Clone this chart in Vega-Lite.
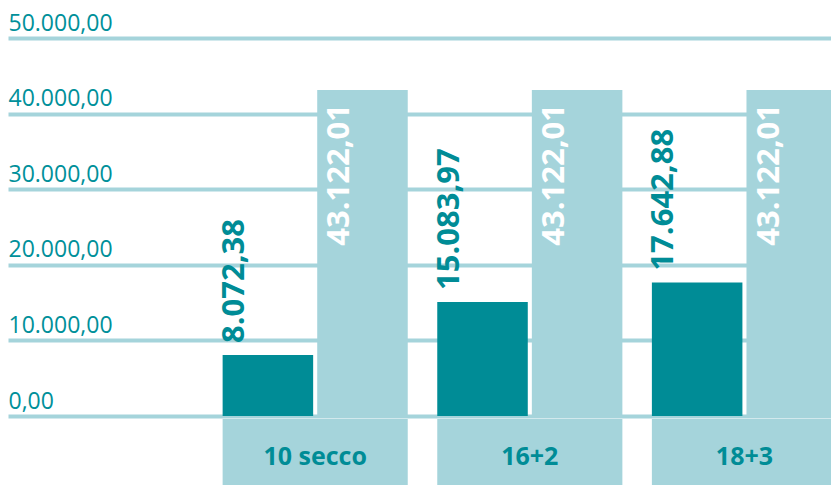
{
  "$schema": "https://vega.github.io/schema/vega-lite/v6.json",
  "padding": {"left": 8, "top": 12, "right": 0, "bottom": 0},
  "background": "white",
  "config": {
    "view": {"stroke": null},
    "font": "Open Sans",
    "locale": {"number": {"decimal": ",", "thousands": ".", "grouping": [3], "currency": ["€", ""]}}
  },
  "spacing": 3,
  "datasets": {
    "bars": [
      {"gruppo": "10 secco", "serie": "A", "valore": 8072.38},
      {"gruppo": "10 secco", "serie": "B", "valore": 43122.01},
      {"gruppo": "16+2", "serie": "A", "valore": 15083.97},
      {"gruppo": "16+2", "serie": "B", "valore": 43122.01},
      {"gruppo": "18+3", "serie": "A", "valore": 17642.88},
      {"gruppo": "18+3", "serie": "B", "valore": 43122.01}
    ]
  },
  "vconcat": [
    {
      "width": 823,
      "height": 378,
      "data": {"name": "bars"},
      "encoding": {
        "x": {"field": "gruppo", "type": "nominal", "sort": ["10 secco", "16+2", "18+3"],
          "scale": {"range": [0, 829], "paddingInner": 0.1375, "paddingOuter": 0.5, "align": 1},
          "axis": null},
        "xOffset": {"field": "serie", "type": "nominal", "scale": {"paddingInner": 0.043, "paddingOuter": 0}},
        "y": {"field": "valore", "type": "quantitative",
          "scale": {"domain": [0, 50000], "nice": false},
          "axis": {"title": null, "values": [0, 10000, 20000, 30000, 40000, 50000], "format": ",.2f",
            "domain": false, "ticks": false, "labelAlign": "left", "labelBaseline": "alphabetic",
            "labelPadding": 0, "labelOffset": -8, "labelFontSize": 23, "labelColor": "#00909a",
            "labelFont": "Open Sans", "grid": true, "gridColor": "#a5d4db", "gridWidth": 4, "gridOpacity": 1}}
      },
      "layer": [
        {
          "mark": {"type": "bar", "clip": true},
          "encoding": {
            "color": {"field": "serie", "type": "nominal", "scale": {"domain": ["A", "B"], "range": ["#008c96", "#a5d4db"]}, "legend": null}
          }
        },
        {
          "transform": [{"filter": "datum.serie == 'A'"}],
          "mark": {"type": "text", "angle": 270, "align": "left", "baseline": "middle", "dx": 12, "dy": -33, "fontSize": 31, "fontWeight": "bold", "color": "#008c96", "font": "Open Sans"},
          "encoding": {"text": {"field": "valore", "type": "quantitative", "format": ",.2f"}}
        },
        {
          "transform": [{"filter": "datum.serie == 'B'"}],
          "mark": {"type": "text", "angle": 270, "align": "right", "baseline": "middle", "dx": -14, "dy": -22, "fontSize": 31, "fontWeight": "bold", "color": "white", "font": "Open Sans"},
          "encoding": {"text": {"field": "valore", "type": "quantitative", "format": ",.2f"}}
        }
      ]
    },
    {
      "width": 823,
      "height": 66,
      "data": {"name": "bars"},
      "transform": [{"filter": "datum.serie == 'A'"}],
      "encoding": {
        "x": {"field": "gruppo", "type": "nominal", "sort": ["10 secco", "16+2", "18+3"],
          "scale": {"range": [0, 829], "paddingInner": 0.1375, "paddingOuter": 0.5, "align": 1},
          "axis": null}
      },
      "layer": [
        {"mark": {"type": "bar", "color": "#a5d4db", "clip": true}},
        {"mark": {"type": "text", "fontSize": 25, "fontWeight": "bold", "color": "#008c96", "baseline": "middle", "dy": 5, "font": "Open Sans"},
          "encoding": {"text": {"field": "gruppo", "type": "nominal"}}}
      ]
    }
  ],
  "resolve": {"scale": {"x": "shared"}}
}
